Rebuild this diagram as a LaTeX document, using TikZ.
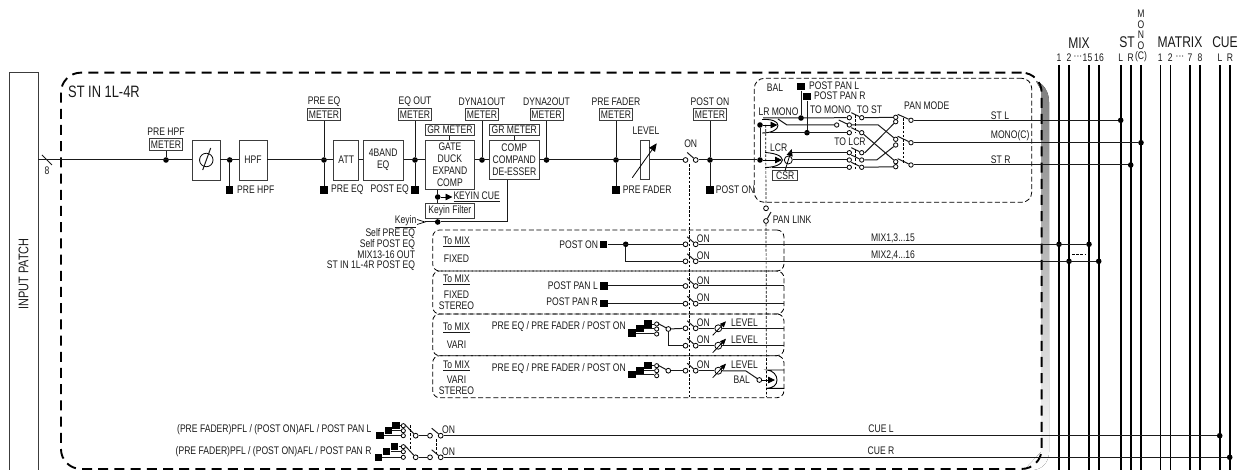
\documentclass[tikz,border=0pt]{standalone}
\usepackage{fontspec}
\setmainfont[FakeStretch=.78]{Liberation Sans}
\usepackage{xcolor}
\usetikzlibrary{arrows.meta}
\definecolor{ink}{HTML}{1A1A1A}
\definecolor{shade}{HTML}{D2D2D2}
\tikzset{
  wire/.style={draw=ink,line width=1pt},
  bus/.style={draw=black,line width=1.6pt},
  link/.style={draw=black,line width=.7pt,dash pattern=on 2.6pt off 1.6pt},
  tip/.style={-{Triangle[length=7pt,width=6.5pt]},draw=black,line width=.8pt},
  stem/.style={draw=ink,line width=1pt},
  lbl/.style={inner sep=0pt,font=\fontsize{11}{11}\selectfont,text=ink},
  lblw/.style={lbl,anchor=west},
  lble/.style={lbl,anchor=east},
  big/.style={inner sep=0pt,font=\fontsize{15.5}{15.5}\selectfont,text=ink},
  unit/.style={draw=ink!85,line width=.9pt,inner sep=0pt,align=center,font=\fontsize{11}{12}\selectfont,text=ink},
  meter/.style={draw=ink!85,line width=.9pt,inner sep=0pt,minimum width=33pt,minimum height=11.5pt,font=\fontsize{11}{11}\selectfont,text=ink},
  dot/.style={circle,fill=black,inner sep=0pt,minimum size=5.6pt},
  sq/.style={fill=black,inner sep=0pt,minimum size=7.4pt},
  term/.style={circle,draw=black,fill=white,line width=.8pt,inner sep=0pt,minimum size=4.8pt},
  group/.style={draw=black,line width=.8pt,dash pattern=on 5pt off 2.6pt,rounded corners=7pt,inner sep=0pt},
  chan/.style={draw=black,line width=1.9pt,dash pattern=on 10pt off 6.2pt,rounded corners=20pt,inner sep=0pt}
}
\begin{document}
\begin{tikzpicture}[x=1pt,y=-1pt]
  \useasboundingbox (0,0) rectangle (1247,470);
  % Shadow and frames
  \fill[shade] (1036,81) .. controls (1044,84) and (1049,92) .. (1049,102) -- (1049,452)
     .. controls (1049,462) and (1042,470) .. (1032,470) -- (1024,470) -- (1041,452) -- (1041,90) -- cycle;
  \draw[draw=ink!85,line width=1pt] (9.5,470) |- (38,73) -- (38,470);
  \node[lbl,rotate=90,font=\fontsize{14}{14}\selectfont] (patch) at (23.5,274) {INPUT PATCH};
  \node[chan,minimum width=980.7pt,minimum height=396.3pt] (stin) at (551.3,270.8) {};
  \node[lblw,font=\fontsize{16.5}{16.5}\selectfont] (stinname) at (68,92) {ST IN 1L-4R};
  \node[group,rounded corners=10pt,minimum width=277.4pt,minimum height=124pt] (panbox) at (893,140.3) {};
  \node[group,minimum width=351.3pt,minimum height=41pt] (fixbox) at (608.3,250.5) {};
  \node[group,minimum width=351.3pt,minimum height=43pt] (fsbox) at (608.3,292.5) {};
  \node[group,minimum width=351.3pt,minimum height=41.7pt] (varbox) at (608.3,334.8) {};
  \node[group,minimum width=351.3pt,minimum height=42pt] (vsbox) at (608.3,376.7) {};

  % Output buses
  \foreach \n/\x in {m1/1059,m2/1069,m15/1089,m16/1099,stl/1120.7,str/1130.7,mono/1141,x1/1160.3,x2/1170.3,x7/1190,x8/1200,cl/1220,cr/1230}{
    \coordinate (b\n) at (\x,65);
    \coordinate (e\n) at (\x,470);
    \draw[bus] (b\n) -- (e\n);
  }
  \foreach \n/\x/\t in {a/1059/1,b/1069/2,c/1078/···,d/1087.5/15,e/1099/16,f/1120.7/L,g/1130.7/R,h/1160.3/1,i/1170.3/2,j/1180/···,k/1190/7,l/1200/8,m/1220/L,n/1230/R}
    \node[lbl] (bl\n) at (\x,57.3) {\t};
  \foreach \n/\y/\t in {a/14/M,b/25/O,c/35/N,d/46/O,e/57/(C)}
    \node[lbl] (ml\n) at (1141,\y) {\t};
  \node[big] (mixname) at (1079,43) {MIX};
  \node[big] (stname) at (1127,42) {ST};
  \node[big] (matname) at (1180,42) {MATRIX};
  \node[big] (cuename) at (1225,42) {CUE};

  % Blocks of the main line
  \node[unit,minimum width=27.4pt,minimum height=40pt] (phase) at (206.3,160) {};
  \node[circle,draw=black,line width=.8pt,inner sep=0pt,minimum size=13.5pt] (phasec) at (206.3,160) {};
  \draw[stem] (202.7,170) -- (210.7,148);
  \node[unit,minimum width=28pt,minimum height=40pt] (hpf) at (253,160) {HPF};
  \node[unit,minimum width=25pt,minimum height=40pt] (att) at (346.2,160) {ATT};
  \node[unit,minimum width=39.7pt,minimum height=40pt] (eqb) at (383.2,160) {4BAND\\EQ};
  \node[unit,minimum width=49.7pt,minimum height=48.6pt] (gate) at (449.9,165) {GATE\\DUCK\\EXPAND\\COMP};
  \node[unit,minimum width=50pt,minimum height=39pt] (comp) at (514.3,160.2) {COMP\\COMPAND\\DE-ESSER};
  \node[unit,minimum width=49.7pt,minimum height=15pt] (keyf) at (449.9,210.8) {Keyin Filter};
  \node[unit,minimum width=8.6pt,minimum height=39pt] (fader) at (645,160.2) {};
  \node[unit,minimum width=25pt,minimum height=10pt] (csr) at (785.2,175.7) {CSR};
  \node[lbl] (level) at (646,130.3) {LEVEL};
  \node[lbl] (onmain) at (690.7,143.3) {ON};

  % Meters and tap points
  \foreach \n/\x/\t in {b/324/PRE EQ,c/415/EQ OUT,d/482/DYNA1OUT,e/546.5/DYNA2OUT,f/616/PRE FADER,g/710/POST ON}{
    \node[meter] (m\n) at (\x,114.5) {METER};
    \node[lbl] (t\n) at (\x,102) {\t};
    \node[dot] (d\n) at (\x,160) {};
    \draw[stem] (m\n) -- (d\n);
  }
  \node[meter] (ma) at (166,144.5) {METER};
  \node[lbl] (ta) at (166,132) {PRE HPF};
  \node[dot] (da) at (166,160) {};
  \node[dot] (dh) at (229.7,160) {};
  \draw[stem] (ma) -- (da);
  \foreach \n/\x in {sh/229.7,sqb/324,sc/415,sf/616,sg/710}
    \node[sq] (\n) at (\x,190) {};
  \draw[stem] (dh) -- (sh);
  \draw[stem] (db) -- (sqb);
  \draw[stem] (dc) -- (sc);
  \draw[stem] (df) -- (sf);
  \draw[stem] (dg) -- (sg);
  \node[lblw] (lh) at (237,190) {PRE HPF};
  \node[lblw] (lb) at (331,190) {PRE EQ};
  \node[lble] (lc) at (409,190) {POST EQ};
  \node[lblw] (lf) at (622.7,190) {PRE FADER};
  \node[lblw] (lg) at (715.7,190) {POST ON};
  \node[meter,minimum width=49.7pt] (gra) at (449.9,129.8) {GR METER};
  \node[meter,minimum width=50pt] (grb) at (514.3,129.8) {GR METER};
  \draw[stem] (gra) -- (gate);
  \draw[stem] (grb) -- (comp);

  % Keyin path
  \coordinate (inp) at (38,160);
  \coordinate (keychev) at (425,222);
  \node[dot] (dkf) at (437.7,197) {};
  \node[dot] (dki) at (437.7,222) {};
  \node[lblw] (keycue) at (453.3,197) {\underline{KEYIN CUE}};
  \node[lble] (keyin) at (416.5,222) {\underline{Keyin}};
  \node[lble] (ka) at (415.3,234) {Self PRE EQ};
  \node[lble] (kb) at (415.3,244.5) {Self POST EQ};
  \node[lble] (kc) at (415.3,255) {MIX13-16 OUT};
  \node[lble] (kd) at (415.3,265.7) {ST IN 1L-4R POST EQ};
  \coordinate (kcue) at (452.5,197);
  \draw[tip] (dkf) -- (kcue);
  \draw[stem] (dkf |- gate.south) -- (dkf);
  \draw[stem] (dkf) -- (dkf |- keyf.north);
  \draw[stem] (dkf |- keyf.south) -- (dki);
  \draw[stem] (keychev) -- (dki);
  \draw[stem] (dki) -| (507.3,180);
  \draw[line width=.7pt] (417,219.5) -- (425,222) -- (417,224.5);

  % Main line
  \draw[wire] (inp) -- (phase);
  \draw[wire] (phase) -- (hpf);
  \draw[wire] (hpf) -- (att);
  \draw[wire] (att) -- (eqb);
  \draw[wire] (eqb.east) -- (eqb.east -| gate.west);
  \draw[wire] (gate.east |- eqb) -- (comp.west |- eqb);
  \draw[wire] (comp.east |- eqb) -- (fader.west |- eqb);
  \draw[stem] (42,155) -- (52,165);
  \node[lbl] (bits) at (47,171) {8};
  \draw[-{Triangle[length=8pt,width=7pt]},draw=black,line width=.8pt] (632.3,177.7) -- (656.7,143.3);

  % ON switches
  \foreach \n/\y in {main/160,fa/244.3,fb/261.3,sa/286,sb/303.7,va/328.3,vb/345.7,vs/370.7}{
    \node[term] (\n i) at (685.5,\y) {};
    \node[term] (\n o) at (695.7,\y) {};
    \draw[stem] (687.2,\y-7.5) -- (\n o);
  }
  \foreach \n/\y in {ca/435.7,cb/457.3}{
    \node[term] (\n i) at (430,\y) {};
    \node[term] (\n o) at (440.7,\y) {};
    \draw[stem] (431.7,\y-7.5) -- (\n o);
  }
  \draw[wire] (fader.east |- eqb) -- (maini);
  \node[dot] (dlc) at (760,160) {};
  \node[dot] (dlr) at (760,125) {};
  \draw[wire] (maino) -- (dlc);
  \draw[stem] (dlc) -- (dlr);

  % Pan section
  \node[lbl] (bal) at (775,87.3) {BAL};
  \node[sq] (ppl) at (801,86.7) {};
  \node[sq] (ppr) at (807,96.7) {};
  \node[lblw] (ppll) at (809,86) {POST PAN L};
  \node[lblw] (pprl) at (814,96) {POST PAN R};
  \node[lblw] (lrmono) at (758.3,111.7) {LR MONO};
  \node[lblw] (lcrname) at (770,147.3) {LCR};
  \node[lbl] (tomono) at (830.5,109.3) {TO MONO};
  \node[lbl] (tost) at (869.5,109.3) {TO ST};
  \node[lbl] (tolcr) at (850,142) {TO LCR};
  \node[lblw] (panmode) at (904,106) {PAN MODE};
  \node[dot] (jl) at (801,118) {};
  \node[dot] (jr) at (807,132.7) {};
  \draw[stem] (ppl) -- (jl);
  \draw[stem] (ppr) -- (jr);
  \draw[line width=.9pt] (762,119.5) .. controls (771,119) and (778,121) .. (778,125.5) .. controls (778,130) and (771,133) .. (762,133);
  \draw[line width=.9pt] (765,152.5) .. controls (773,153) and (782,155) .. (782.5,160) .. controls (782,165) and (773,167.5) .. (765,167.5);
  \coordinate (lrtip) at (777.5,125);
  \coordinate (lctip) at (782,160);
  \draw[tip] (dlr) -- (lrtip);
  \draw[tip] (dlc) -- (lctip);
  \node[circle,draw=black,line width=.8pt,inner sep=0pt,minimum size=8pt] (lcphi) at (788.3,160) {};
  \draw[-{Triangle[length=7pt,width=6pt]},draw=black,line width=.8pt] (785,170.7) -- (791.7,149);
  % selector terminals
  \foreach \n/\x/\y in {mi/836.7/125,mo/849.3/125,ti/849.3/117.7,to/861.7/117.7,ui/849.3/132.7,uo/861.7/132.7,ai/849.3/152.7,ao/861.7/152.7,bi/849.3/160,bo/861.7/160,ci/849.3/167.3,co/861.7/167.3,
      pa/895.7/117.3,pb/895.7/121.7,pc/895.7/139.3,pd/895.7/145,pe/895.7/161.7,pf/895.7/166.7,qa/911/120.3,qb/911/142.7,qc/911/165}
    \node[term,minimum size=4.4pt] (\n) at (\x,\y) {};
  \foreach \a/\b in {mi/mo,ti/to,ui/uo,ai/ao,bi/bo,ci/co}
    \draw[stem] ([shift={(2,-5)}]\a.center) -- (\b);
  \draw[stem] ([shift={(2,-3)}]pa.center) -- (qa);
  \draw[stem] ([shift={(2,-3)}]pc.center) -- (qb);
  \draw[stem] ([shift={(2,-3)}]pe.center) -- (qc);
  \coordinate (lrup) at (763,118);
  \coordinate (lrlo) at (770,132.7);
  \coordinate (lrmi) at (778,119);
  \coordinate (lca) at (789,152.7);
  \coordinate (lcb) at (772,167.3);
  \draw[wire] (lrup) -- (ti);
  \draw[wire] (lrlo) -- (ui);
  \draw[wire] (lrmi) -- (787,125) -- (mi);
  \draw[wire] (lca) -- (ai);
  \draw[wire] (lcphi) -- (bi);
  \draw[wire] (lcb) -- (ci);
  \draw[wire] (to) -- (pa);
  \draw[wire] (uo) -- (pe);
  \draw[wire] (ao) -- (865,152.7) -- (pb);
  \draw[wire] (bo) -- (876.7,160) -- (pd);
  \draw[wire] (co) -- (pf);
  \draw[wire] (mo) -- (878.3,125) -- (pc);
  \draw[link] (855,115) -- (855,132);
  \draw[link] (855,150) -- (855,170);
  \draw[link] (903.3,118) -- (903.3,163);
  % Output wires
  \node[dot] (ostl) at (1120.7,120.3) {};
  \node[dot] (omono) at (1141,142.7) {};
  \node[dot] (ostr) at (1130.7,165) {};
  \draw[wire] (qa) -- (ostl);
  \draw[wire] (qb) -- (omono);
  \draw[wire] (qc) -- (ostr);
  \node[lblw] (lstl) at (990.7,115.7) {ST L};
  \node[lblw] (lmono) at (990.7,136) {MONO(C)};
  \node[lblw] (lstr) at (990.7,160) {ST R};

  % PAN LINK
  \node[term] (pla) at (766,208.3) {};
  \node[term] (plb) at (766,221) {};
  \draw[stem] (771,212) -- (plb);
  \node[lblw] (pllink) at (772.7,219.3) {PAN LINK};
  \coordinate (plt) at (765.7,125);
  \coordinate (vsend) at (766.5,397);
  \draw[link] (plt) -- (pla);
  \draw[link] (plb) -- (vsend);
  \coordinate (ont) at (689.7,164);
  \coordinate (onb) at (689.7,397);
  \draw[link] (ont) -- (onb);

  % To MIX groups
  \foreach \n/\y/\t in {a/241.7/\underline{To MIX},b/258.3/FIXED,c/280/\underline{To MIX},d/295/FIXED,e/305.5/STEREO,f/327.7/\underline{To MIX},g/344.3/VARI,h/365.7/\underline{To MIX},i/380/VARI,j/391/STEREO}
    \node[lbl] (gt\n) at (456.5,\y) {\t};
  \node[sq] (sfx) at (603.7,244.3) {};
  \node[lble] (lfx) at (598.3,244.3) {POST ON};
  \node[dot] (dfx) at (625.7,244.3) {};
  \draw[wire] (sfx) -- (fai);
  \draw[wire] (dfx) |- (fbi);
  \node[sq] (ssa) at (604,286) {};
  \node[lble] (lsa) at (598,286) {POST PAN L};
  \node[sq] (ssb) at (604,303.7) {};
  \node[lble] (lsb) at (598,302) {POST PAN R};
  \draw[wire] (ssa) -- (sai);
  \draw[wire] (ssb) -- (sbi);
  \coordinate (sae) at (784,286);
  \coordinate (sbe) at (784,303.7);
  \draw[wire] (sao) -- (sae);
  \draw[wire] (sbo) -- (sbe);
  \foreach \n/\y in {fa/239,fb/255.7,sa/281,sb/298,va/323,vb/340,vs/365}
    \node[lblw] (on\n) at (696.7,\y) {ON};

  % MIX outputs
  \node[dot] (mxa) at (1059,244.3) {};
  \node[dot] (mxb) at (1089,244.3) {};
  \node[dot] (mxc) at (1069,261.3) {};
  \node[dot] (mxd) at (1098.7,261.3) {};
  \draw[wire] (fao) -- (mxb);
  \draw[wire] (fbo) -- (mxd);
  \coordinate (mda) at (1072,254);
  \coordinate (mdb) at (1086,254);
  \draw[link] (mda) -- (mdb);
  \node[lbl] (mxl) at (893,238) {MIX1,3...15};
  \node[lbl] (mxr) at (893,255) {MIX2,4...16};

  % Source selectors
  \foreach \n/\y in {v/324,w/365.7}{
    \node[sq] (\n sa) at (648,\y) {};
    \node[sq] (\n sb) at (640,\y+4.5) {};
    \node[sq] (\n sc) at (632,\y+9) {};
    \foreach \k/\dy in {a/0,b/5,c/10}
      \node[term,minimum size=4.2pt] (\n t\k) at (656.7,\y+\dy) {};
    \draw[wire] (\n sa) -- (\n ta);
    \draw[wire] (\n sb) -- (\n sb -| \n tb.west);
    \draw[wire] (\n sc) -- (\n sc -| \n tc.west);
    \node[term] (\n o) at (668.3,\y+5) {};
    \draw[stem] (658,\y-.5) -- (\n o);
    \node[lble] (\n l) at (626,\y+3) {PRE EQ / PRE FADER / POST ON};
  }
  \draw[wire] (vo) -- (vai);
  \draw[wire] (vo) |- (vbi);
  \draw[wire] (wo) -- (vsi);
  % LEVEL controls
  \foreach \n/\y in {va/328.3,vb/345.7,vs/370.7}{
    \node[term,minimum size=7pt] (\n f) at (718.3,\y) {};
    \draw[-{Triangle[length=6pt,width=5pt]},draw=black,line width=.8pt] (712.7,\y+7) -- (726,\y-7);
    \draw[wire] (\n o) -- (\n f);
    \node[lblw] (\n lv) at (731,\y-5.6) {LEVEL};
  }
  \coordinate (vae) at (784,328.3);
  \coordinate (vbe) at (784,345.7);
  \draw[wire] (vaf) -- (vae);
  \draw[wire] (vbf) -- (vbe);
  \node[lbl] (balb) at (741.7,380) {BAL};
  \node[term] (bt) at (759.3,380) {};
  \coordinate (bs) at (746,371);
  \coordinate (btip) at (775,380);
  \draw[wire] (vsf) -- (bs) -- (bt);
  \draw[tip] (bt) -- (btip);
  \draw[line width=.9pt] (784,370) -- (767,370) .. controls (773,370.5) and (777,375) .. (777,380) .. controls (777,385) and (773,388) .. (767,388.3) -- (784,388.3);

  % CUE lines
  \foreach \n/\sa/\ya/\sb/\yb/\sc/\yc/\oy/\t in {ca/396/425.7/388.3/430.7/380/435.7/435.7/{(PRE FADER)PFL / (POST ON)AFL / POST PAN L},cb/394.7/446.7/386.7/451.7/378.3/457.3/457.3/{(PRE FADER)PFL / (POST ON)AFL / POST PAN R}}{
    \node[sq] (\n sa) at (\sa,\ya) {};
    \node[sq] (\n sb) at (\sb,\yb) {};
    \node[sq] (\n sc) at (\sc,\yc) {};
    \node[term,minimum size=4.2pt] (\n ta) at (403.3,\ya) {};
    \node[term,minimum size=4.2pt] (\n tb) at (403.3,\yb) {};
    \node[term,minimum size=4.2pt] (\n tc) at (403.3,\yc) {};
    \draw[wire] (\n sa) -- (\n ta);
    \draw[wire] (\n sb) -- (\n tb);
    \draw[wire] (\n sc) -- (\n tc);
    \node[term] (\n m) at (415.7,\oy) {};
    \draw[stem] (405,\ya-1) -- (\n m);
    \draw[wire] (\n m) -- (\n i);
    \node[lblw] (\n on) at (442,\oy-5.7) {ON};
    \node[lble] (\n lb) at (371.7,\oy-5.7) {\t};
  }
  \node[dot] (dcl) at (1219.7,435.7) {};
  \node[dot] (dcr) at (1229.7,457.3) {};
  \draw[wire] (cao) -- (dcl);
  \draw[wire] (cbo) -- (dcr);
  \node[lbl] (lcl) at (881,429) {CUE L};
  \node[lbl] (lcrr) at (881,451) {CUE R};
  \coordinate (cda) at (410,425);
  \coordinate (cdb) at (410,450);
  \coordinate (cdc) at (436.7,439);
  \coordinate (cdd) at (436.7,455);
  \draw[link] (cda) -- (cdb);
  \draw[link] (cdc) -- (cdd);
\end{tikzpicture}
\end{document}
